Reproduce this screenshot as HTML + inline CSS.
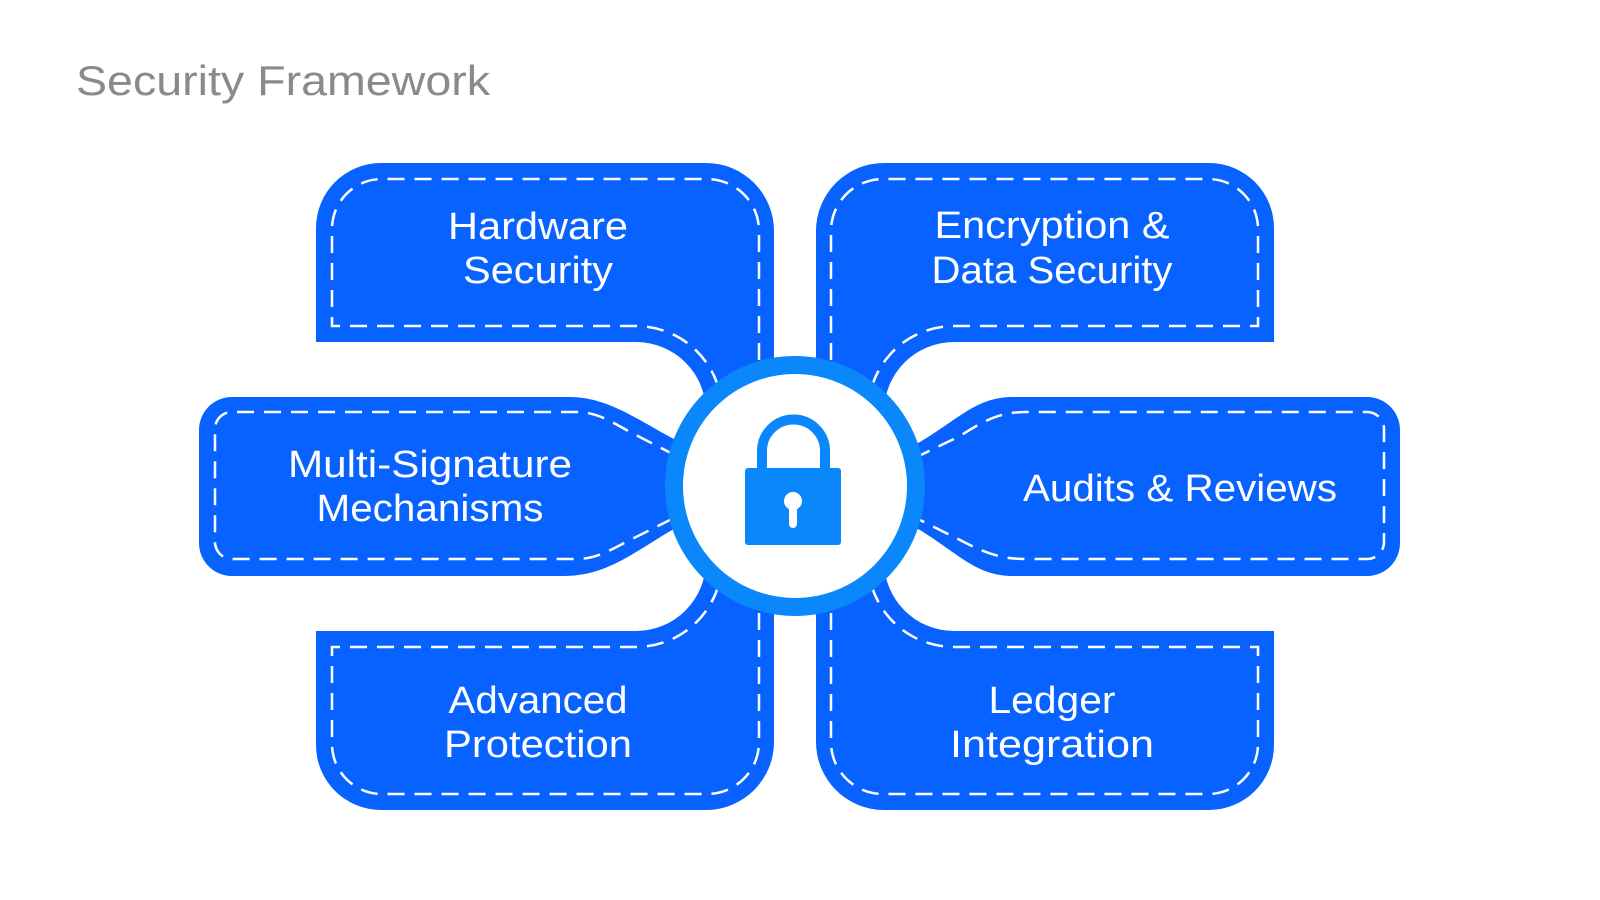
<!DOCTYPE html>
<html><head><meta charset="utf-8"><style>
html,body{margin:0;padding:0;background:#fff;width:1600px;height:900px;overflow:hidden}
svg{display:block}
text{font-family:"Liberation Sans",sans-serif}
</style></head><body>
<svg width="1600" height="900" viewBox="0 0 1600 900" xmlns="http://www.w3.org/2000/svg">
<text x="76" y="95" font-size="42" fill="#8a8a8a" textLength="414" lengthAdjust="spacingAndGlyphs">Security Framework</text>

<defs>
<g id="tl">
<path d="M316 342 L316 228 A65 65 0 0 1 381 163 L706 163 A68 68 0 0 1 774 231 L774 440 L706 440 L706 412 A70 70 0 0 0 636 342 Z" fill="#0762ff"/>
<path d="M722 440 L722 412 A86 86 0 0 0 636 326 L332 326 L332 229 A50 50 0 0 1 382 179 L707 179 A52 52 0 0 1 759 231 L759 440" fill="none" stroke="#fff" stroke-width="2.5" stroke-dasharray="17 10"/>
</g>
</defs>
<use href="#tl"/>
<use href="#tl" transform="translate(1590,0) scale(-1,1)"/>
<use href="#tl" transform="translate(0,973) scale(1,-1)"/>
<use href="#tl" transform="translate(1590,973) scale(-1,-1)"/>

<path d="M232 397 L569 397 C605 397 630 415 672 438 L720 460 L720 515 L672 530 C630 555 605 576 563 576 L232 576 A33 33 0 0 1 199 543 L199 430 A33 33 0 0 1 232 397 Z" fill="#0762ff"/>
<path d="M700 468 L630 432 C605 418 595 412 575 412 L232 412 A17 17 0 0 0 215 429 L215 542 A17 17 0 0 0 232 559 L575 559 C595 559 605 553 630 540 L700 505" fill="none" stroke="#fff" stroke-width="2.5" stroke-dasharray="17 10"/>

<path d="M1367 397 L1013 397 C977 397 960 418 920 442 L870 465 L870 510 L920 530 C960 555 977 576 1013 576 L1367 576 A33 33 0 0 0 1400 543 L1400 430 A33 33 0 0 0 1367 397 Z" fill="#0762ff"/>
<path d="M890 470 L960 436 C985 420 1000 412 1027 412 L1367 412 A17 17 0 0 1 1384 429 L1384 542 A17 17 0 0 1 1367 559 L1027 559 C1000 559 985 553 960 540 L890 505" fill="none" stroke="#fff" stroke-width="2.5" stroke-dasharray="17 10"/>

<circle cx="795" cy="486" r="121" fill="#fff" stroke="#0a87fb" stroke-width="18"/>
<path d="M762 470 L762 451 A31.5 31.5 0 0 1 825 451 L825 470" fill="none" stroke="#0a87fb" stroke-width="10"/>
<rect x="745" y="468" width="96" height="77" rx="3" fill="#0a87fb"/>
<circle cx="793" cy="501" r="9" fill="#fff"/>
<rect x="789" y="501" width="8" height="27" rx="4" fill="#fff"/>

<g fill="#fff" font-size="38" text-anchor="middle">
<text x="538" y="239" textLength="180" lengthAdjust="spacingAndGlyphs">Hardware</text>
<text x="538" y="283" textLength="150" lengthAdjust="spacingAndGlyphs">Security</text>
<text x="1052" y="238" textLength="235" lengthAdjust="spacingAndGlyphs">Encryption &amp;</text>
<text x="1052" y="283" textLength="241" lengthAdjust="spacingAndGlyphs">Data Security</text>
<text x="430" y="477" textLength="284" lengthAdjust="spacingAndGlyphs">Multi-Signature</text>
<text x="430" y="521" textLength="227" lengthAdjust="spacingAndGlyphs">Mechanisms</text>
<text x="1180" y="501" textLength="314" lengthAdjust="spacingAndGlyphs">Audits &amp; Reviews</text>
<text x="538" y="713" textLength="179" lengthAdjust="spacingAndGlyphs">Advanced</text>
<text x="538" y="757" textLength="188" lengthAdjust="spacingAndGlyphs">Protection</text>
<text x="1052" y="713" textLength="127" lengthAdjust="spacingAndGlyphs">Ledger</text>
<text x="1052" y="757" textLength="204" lengthAdjust="spacingAndGlyphs">Integration</text>
</g>
</svg>
</body></html>
